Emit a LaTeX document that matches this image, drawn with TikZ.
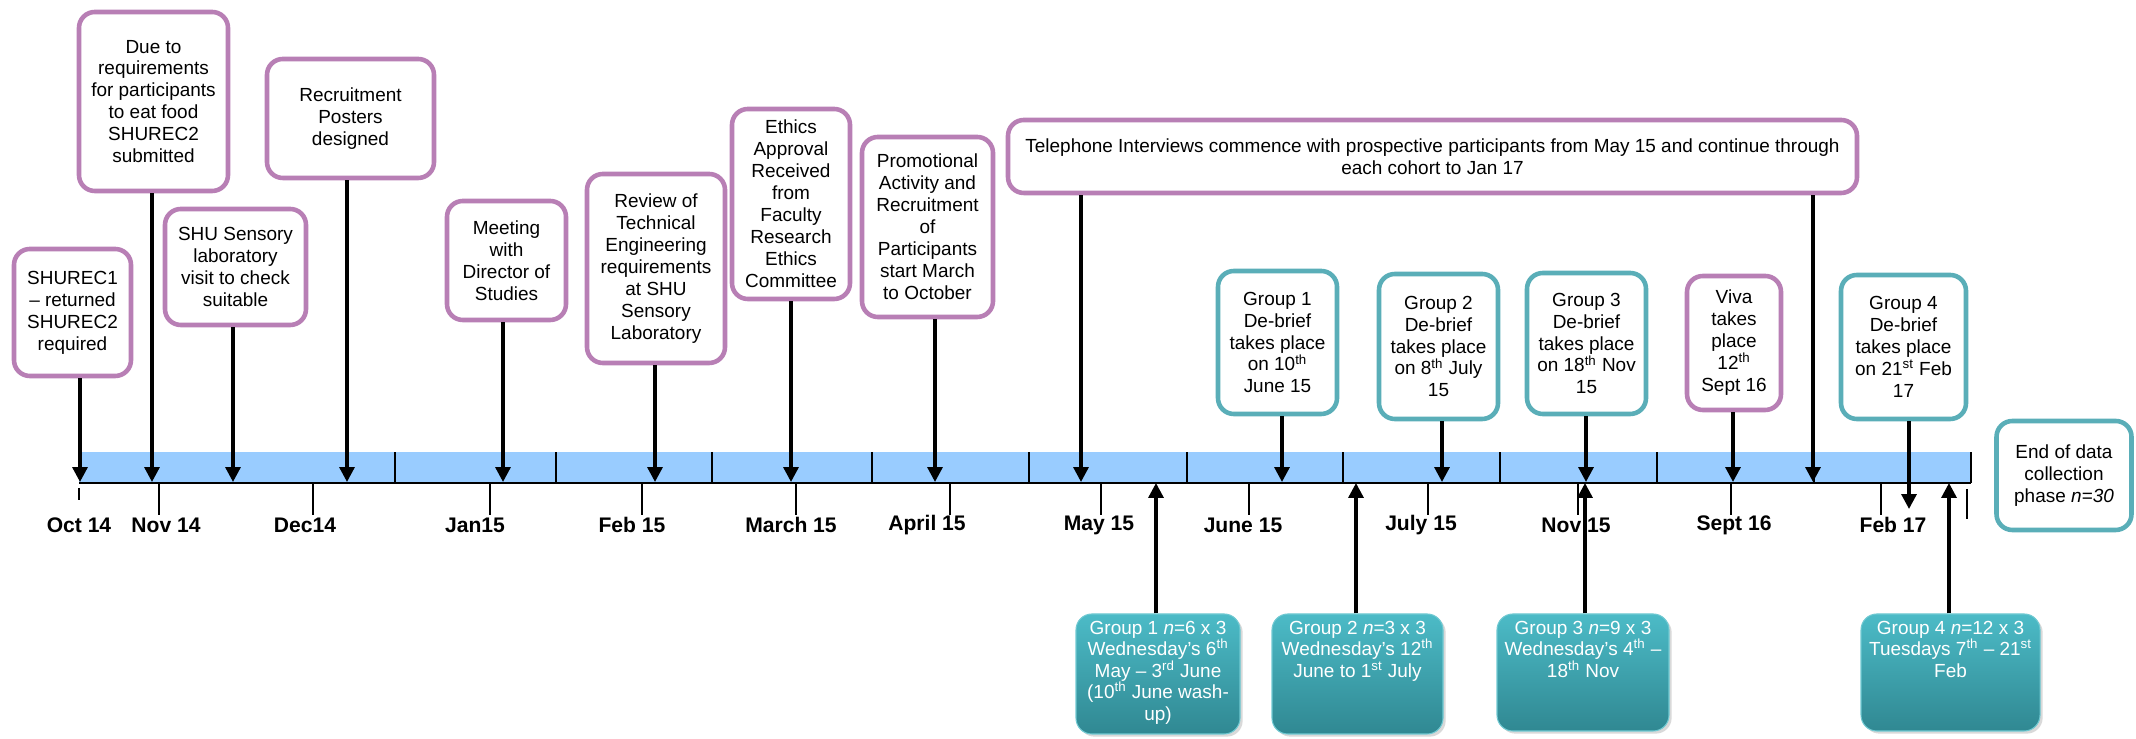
\documentclass[tikz,border=0pt]{standalone}
\usepackage{fontspec}
\setmainfont{Liberation Sans}
\usetikzlibrary{arrows.meta}
\usetikzlibrary{positioning}
\usetikzlibrary{shadows}

\definecolor{boxpurple}{RGB}{184,127,181}
\definecolor{boxteal}{RGB}{90,174,184}
\definecolor{barblue}{RGB}{153,204,255}
\definecolor{grptop}{RGB}{76,187,199}
\definecolor{grpbot}{RGB}{48,136,146}

\tikzset{
  boxsize/.style 2 args={minimum width=#1*0.02cm, minimum height=#2*0.02cm},
  evbox/.style={draw, line width=2.6pt, rounded corners=9pt, fill=white, align=center,
    inner sep=2pt, font=\fontsize{10.8}{12.5}\selectfont},
  purbox/.style={evbox, draw=boxpurple},
  tealbox/.style={evbox, draw=boxteal},
  grpbox/.style={rounded corners=9pt, top color=grptop, bottom color=grpbot,
    draw=grptop!80!white, line width=0.6pt,
    drop shadow={opacity=0.3, shadow xshift=1.5pt, shadow yshift=-1.5pt}},
  grptext/.style={align=center, text=white, inner sep=1pt, font=\fontsize{10.8}{12.3}\selectfont},
  arr/.style={line width=1.9pt, -{Triangle[width=8.5pt,length=8.5pt]}},
  monthtick/.style={line width=0.8pt},
  divider/.style={line width=1pt},
  monthlbl/.style={font=\fontsize{12}{14}\selectfont\bfseries}
}

\begin{document}
\begin{tikzpicture}[x=0.02cm, y=0.02cm]
    \useasboundingbox (0,0) rectangle (2136,739);

    % the timeline bar
    \fill[barblue] (79,256) rectangle (1971,287);
    \foreach \dx in {395,556,712,872,1029,1187,1343,1500,1657,1814,1971}
        \draw[divider] (\dx,256) -- (\dx,287);
    \draw[line width=1.6pt] (79,256) -- (1971,256);
    \foreach \tx in {159,313,490,642,796,950,1101,1249,1428,1578,1731,1881}
        \draw[monthtick] (\tx,256) -- (\tx,224);
    \draw[monthtick] (79,251) -- (79,239);
    \draw[monthtick] (1967,250) -- (1967,220);
    \foreach \lx/\txt [count=\i] in {79/Oct 14,166/Nov 14,305/Dec14,475/Jan15,632/Feb 15,
        791/March 15,927/April 15,1099/May 15,1243/June 15,1421/July 15,1576/Nov 15,
        1734/Sept 16,1893/Feb 17}
        \node[monthlbl] (mon\i) at (\lx,214) {\txt};

    % events above the bar
    \node[purbox, boxsize={117}{127}] (b1) at (72.5,426.5) {SHUREC1\\-- returned\\SHUREC2\\required};
    \node[purbox, boxsize={149}{179}] (b2) at (153.5,637.5) {Due to\\requirements\\for participants\\to eat food\\SHUREC2\\submitted};
    \node[purbox, boxsize={141}{116}] (b3) at (235.5,472) {SHU Sensory\\laboratory\\visit to check\\suitable};
    \node[purbox, boxsize={167}{119}] (b4) at (350.5,620.5) {Recruitment\\Posters\\designed};
    \node[purbox, boxsize={119}{119}] (b5) at (506.5,478.5) {Meeting\\with\\Director of\\Studies};
    \node[purbox, boxsize={138}{189}] (b6) at (656,470.5) {Review of\\Technical\\Engineering\\requirements\\at SHU\\Sensory\\Laboratory};
    \node[purbox, boxsize={118}{190}] (b7) at (791,535) {Ethics\\Approval\\Received\\from\\Faculty\\Research\\Ethics\\Committee};
    \node[purbox, boxsize={131}{180}] (b8) at (927.5,512) {Promotional\\Activity and\\Recruitment\\of\\Participants\\start March\\to October};
    \node[purbox, boxsize={849}{73}] (tel) at (1432.5,582.5) {Telephone Interviews commence with prospective participants from May 15 and continue through\\each cohort to Jan 17};
    \node[tealbox, boxsize={119}{143}] (d1) at (1277.5,396.5) {Group 1\\De-brief\\takes place\\on 10\textsuperscript{th}\\June 15};
    \node[tealbox, boxsize={119}{145}] (d2) at (1438.5,392.5) {Group 2\\De-brief\\takes place\\on 8\textsuperscript{th} July\\15};
    \node[tealbox, boxsize={119}{141}] (d3) at (1586.5,395.5) {Group 3\\De-brief\\takes place\\on 18\textsuperscript{th} Nov\\15};
    \node[purbox, boxsize={94}{134}] (viva) at (1734,396) {Viva\\takes\\place\\12\textsuperscript{th}\\Sept 16};
    \node[tealbox, boxsize={125}{144}] (d4) at (1903.5,392) {Group 4\\De-brief\\takes place\\on 21\textsuperscript{st} Feb\\17};
    \node[tealbox, boxsize={135}{109}] (endb) at (2064,263.5) {End of data\\collection\\phase \textit{n=30}};

    % groups below the bar
    \node[grpbox, boxsize={164}{120}] (g1) at (1158,65) {};
    \node[grptext, below=3pt of g1.north] (g1t) {Group 1 \textit{n}=6 x 3\\Wednesday’s 6\textsuperscript{th}\\May -- 3\textsuperscript{rd} June\\(10\textsuperscript{th} June wash-\\up)};
    \node[grpbox, boxsize={171}{120}] (g2) at (1357.5,65) {};
    \node[grptext, below=3pt of g2.north] (g2t) {Group 2 \textit{n}=3 x 3\\Wednesday’s 12\textsuperscript{th}\\June to 1\textsuperscript{st} July};
    \node[grpbox, boxsize={172}{117}] (g3) at (1583,66.5) {};
    \node[grptext, below=3pt of g3.north] (g3t) {Group 3 \textit{n}=9 x 3\\Wednesday’s 4\textsuperscript{th} --\\18\textsuperscript{th} Nov};
    \node[grpbox, boxsize={179}{117}] (g4) at (1950.5,66.5) {};
    \node[grptext, below=3pt of g4.north] (g4t) {Group 4 \textit{n}=12 x 3\\Tuesdays 7\textsuperscript{th} -- 21\textsuperscript{st}\\Feb};

    % arrow tips on the bar
    \coordinate (t1) at (80,257);
    \coordinate (t2) at (152,257);
    \coordinate (t3) at (233,257);
    \coordinate (t4) at (347,257);
    \coordinate (t5) at (503,257);
    \coordinate (t6) at (655,257);
    \coordinate (t7) at (791,257);
    \coordinate (t8) at (935,257);
    \coordinate (ta) at (1081,257);
    \coordinate (tb) at (1813,257);
    \coordinate (td1) at (1282,257);
    \coordinate (td2) at (1442,257);
    \coordinate (td3) at (1586,257);
    \coordinate (tv) at (1733,257);
    \coordinate (td4) at (1909,230);
    \coordinate (u1) at (1156,256);
    \coordinate (u2) at (1356,256);
    \coordinate (u3) at (1585,256);
    \coordinate (u4) at (1949,256);

    \draw[arr] (b1.south -| t1) -- (t1);
    \draw[arr] (b2.south -| t2) -- (t2);
    \draw[arr] (b3.south -| t3) -- (t3);
    \draw[arr] (b4.south -| t4) -- (t4);
    \draw[arr] (b5.south -| t5) -- (t5);
    \draw[arr] (b6.south -| t6) -- (t6);
    \draw[arr] (b7.south -| t7) -- (t7);
    \draw[arr] (b8.south -| t8) -- (t8);
    \draw[arr] (tel.south -| ta) -- (ta);
    \draw[arr] (tel.south -| tb) -- (tb);
    \draw[arr] (d1.south -| td1) -- (td1);
    \draw[arr] (d2.south -| td2) -- (td2);
    \draw[arr] (d3.south -| td3) -- (td3);
    \draw[arr] (viva.south -| tv) -- (tv);
    \draw[arr] (d4.south -| td4) -- (td4);
    \draw[arr] (g1.north -| u1) -- (u1);
    \draw[arr] (g2.north -| u2) -- (u2);
    \draw[arr] (g3.north -| u3) -- (u3);
    \draw[arr] (g4.north -| u4) -- (u4);
\end{tikzpicture}
\end{document}
